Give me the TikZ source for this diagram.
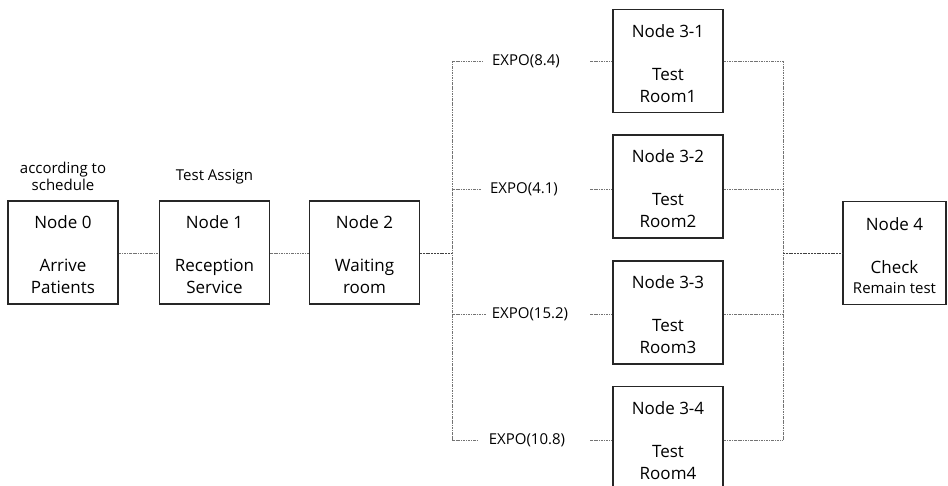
\documentclass[tikz,border=0pt]{standalone}
\usepackage{fontspec}
\setmainfont{Open Sans}
\newcommand{\topstrut}{\rule{0pt}{18pt}}
\begin{document}
\begin{tikzpicture}[x=1pt,y={(0pt,-1pt)},
  box/.style={draw=black!85, line width=1.1pt, minimum width=110pt, minimum height=103pt, inner sep=0pt, align=center, font=\fontsize{17}{22}\selectfont},
  lbl/.style={inner sep=0pt, font=\fontsize{15}{17}\selectfont},
  conn/.style={draw=black!55, line width=0.6pt, dash pattern=on 2.5pt off 1pt on 0.8pt off 1pt},
  dark/.style={draw=black!75, line width=0.8pt, dash pattern=on 2pt off 0.8pt}
]
\useasboundingbox (0,0) rectangle (948,486);
\clip (0,0) rectangle (948,486);
\fill[white] (0,0) rectangle (948,486);

\node[box] (n0) at (63,252.5) {\topstrut Node 0\\[21pt]Arrive\\Patients};
\node[box] (n1) at (214.5,252.5) {\topstrut Node 1\\[21pt]Reception\\Service};
\node[box] (n2) at (364.5,252.5) {\topstrut Node 2\\[21pt]Waiting\\room};
\node[box] (n31) at (668,61) {\topstrut Node 3-1\\[21pt]Test\\Room1};
\node[box] (n32) at (668,186.5) {\topstrut Node 3-2\\[21pt]Test\\Room2};
\node[box] (n33) at (668,312.5) {\topstrut Node 3-3\\[21pt]Test\\Room3};
\node[box] (n34) at (668,438) {\topstrut Node 3-4\\[21pt]Test\\Room4};
\node[box, minimum width=103pt] (n4) at (894.5,253) {\topstrut Node 4\\[21pt]Check\\[-2pt]{\fontsize{15}{17}\selectfont Remain test}};

\node[lbl, align=center, font=\fontsize{15}{17}\selectfont] (t0) at (63,176) {according to\\schedule};
\node[lbl] (t1) at (214.5,177) {Test Assign};

\node[lbl] (e1) at (526,61) {EXPO(8.4)};
\node[lbl] (e2) at (524,189) {EXPO(4.1)};
\node[lbl] (e3) at (530,314) {EXPO(15.2)};
\node[lbl] (e4) at (527,440) {EXPO(10.8)};

\coordinate (s) at (452,253);
\coordinate (s1) at (452,61);
\coordinate (s2) at (452,189);
\coordinate (s3) at (452,314);
\coordinate (s4) at (452,440);
\coordinate (a1) at (483,61);
\coordinate (a2) at (481,189);
\coordinate (a3) at (487,314);
\coordinate (a4) at (477,440);
\coordinate (g1) at (590,61);
\coordinate (g2) at (590,189);
\coordinate (g3) at (590,314);
\coordinate (g4) at (590,440);
\coordinate (r1) at (783,61);
\coordinate (r2) at (783,189);
\coordinate (r3) at (783,314);
\coordinate (r4) at (783,440);
\coordinate (r) at (783,253);

\draw[conn] (n0.east |- 0,253) -- (n1.west |- 0,253);
\draw[conn] (n1.east |- 0,253) -- (n2.west |- 0,253);
\draw[dark] (n2.east |- s) -- (s);
\draw[conn] (s1) -- (s4);
\draw[conn] (s1) -- (a1);
\draw[conn] (s2) -- (a2);
\draw[conn] (s3) -- (a3);
\draw[conn] (s4) -- (a4);
\draw[conn] (g1) -- (n31.west |- g1);
\draw[conn] (g2) -- (n32.west |- g2);
\draw[conn] (g3) -- (n33.west |- g3);
\draw[conn] (g4) -- (n34.west |- g4);
\draw[conn] (n31.east |- r1) -- (r1);
\draw[conn] (n32.east |- r2) -- (r2);
\draw[conn] (n33.east |- r3) -- (r3);
\draw[conn] (n34.east |- r4) -- (r4);
\draw[conn] (r1) -- (r4);
\draw[dark] (r) -- (n4.west |- r);
\end{tikzpicture}
\end{document}
